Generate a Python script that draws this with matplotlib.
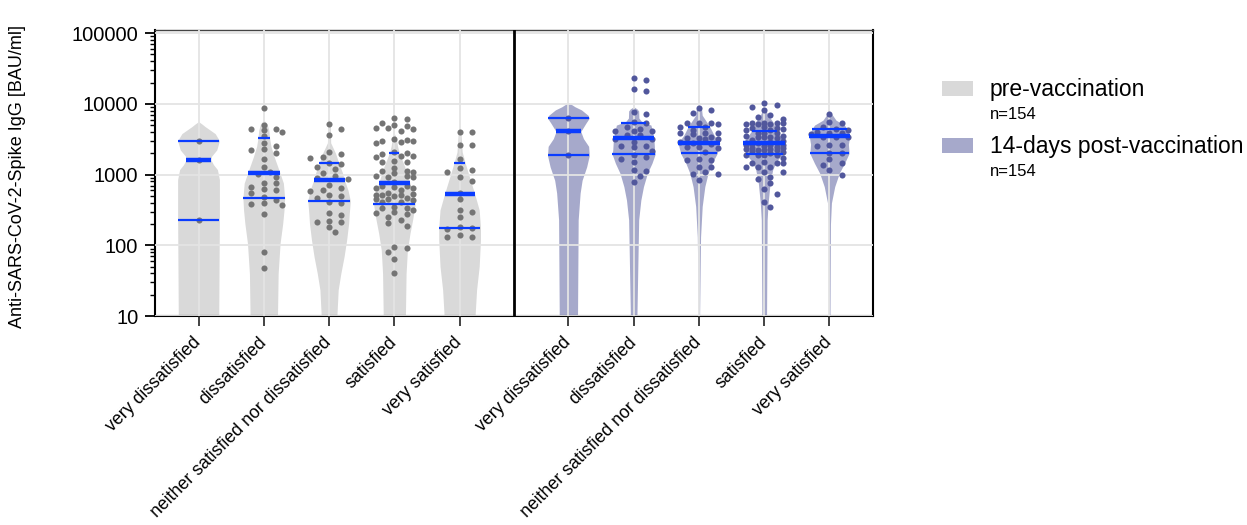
import numpy as np
import matplotlib
matplotlib.use("Agg")
import matplotlib.pyplot as plt
from matplotlib.patches import Rectangle
from matplotlib.transforms import ScaledTranslation

plt.rcParams["font.family"] = ["Liberation Sans", "DejaVu Sans"]

categories = ["very dissatisfied", "dissatisfied", "neither satisfied nor dissatisfied",
              "satisfied", "very satisfied"]

# anti-spike IgG values [BAU/ml]
pre_values = [
    [3000, 1620, 230],
    [8690, 5050, 4430, 4430, 4340, 4060, 3530, 2840, 2520, 2330, 2230, 2000, 1650, 1270,
     1080, 1010, 918, 771, 755, 663, 634, 601, 545, 489, 438, 393, 385, 377, 275, 81, 47],
    [5150, 4390, 3650, 2120, 1960, 1800, 1740, 1450, 1420, 1300, 1200, 1070, 948, 889, 860,
     715, 656, 608, 588, 511, 500, 474, 411, 403, 284, 264, 224, 217, 212, 180, 153],
    [6280, 6140, 5450, 5100, 4940, 4630, 4630, 4390, 4200, 3200, 3100, 3000, 2940, 2870, 2840,
     2070, 2010, 1970, 1860, 1860, 1800, 1560, 1500, 1500, 1230, 1140, 1140, 1100, 1070, 960,
     960, 940, 940, 798, 693, 693, 664, 643, 643, 608, 557, 528, 517, 517, 517, 500, 463, 449,
     449, 439, 416, 416, 353, 335, 335, 317, 300, 284, 279, 255, 229, 206, 190, 96, 91, 80,
     64, 40],
    [3980, 3980, 2640, 2640, 1670, 1230, 1170, 1100, 918, 824, 546, 449, 317, 300, 250, 184,
     175, 169, 141, 130, 130],
]
post_values = [
    [6300, 4100, 1880],
    [23000, 21800, 16300, 15400, 7700, 7210, 5560, 5330, 4680, 4430, 4200, 4200, 4200, 3640,
     3640, 3200, 3200, 2930, 2550, 2550, 2440, 2190, 1900, 1800, 1650, 1530, 1160, 1140, 968,
     780],
    [8870, 8220, 7380, 5440, 5380, 5320, 5150, 4780, 4780, 4290, 3930, 3930, 3850, 3770, 3370,
     3270, 3270, 3160, 3160, 2850, 2780, 2720, 2490, 2490, 2360, 2120, 1650, 1610, 1610, 1300,
     1300, 1080, 1020, 1010, 841],
    [10200, 9680, 8970, 8220, 6990, 6470, 6070, 5450, 5320, 5320, 5320, 5210, 5150, 5150, 4680,
     4530, 4530, 4390, 4290, 4290, 3930, 3930, 3850, 3520, 3520, 3450, 3450, 3370, 3270, 3100,
     3000, 2900, 2840, 2780, 2780, 2780, 2720, 2650, 2630, 2600, 2500, 2450, 2400, 2360, 2290,
     2290, 2230, 2230, 2230, 2190, 2100, 2000, 1900, 1900, 1900, 1900, 1700, 1530, 1480, 1480,
     1450, 1300, 1270, 1270, 1100, 1080, 918, 860, 755, 621, 533, 415, 353],
    [7230, 5620, 5320, 4780, 4390, 4290, 4060, 3930, 3930, 3720, 3450, 3450, 3450, 2630, 2630,
     2550, 2050, 2000, 1650, 1480, 1370, 1160, 990],
]

# quartiles (q1, median, q3) as drawn in the figure
pre_stats = [(230, 1620, 3020), (460, 1070, 3270), (425, 830, 1450), (390, 764, 2030),
             (177, 540, 1460)]
post_stats = [(1880, 4100, 6340), (1940, 3270, 5320), (2010, 2780, 4680), (1960, 2780, 4200),
              (2050, 3520, 4390)]

# violin outlines: (log10 level, half width relative to category spacing)
pre_violins = [
    [(3.75, 0), (3.71, 0.06), (3.68, 0.10), (3.58, 0.255), (3.48, 0.32), (3.35, 0.28),
     (3.26, 0.20), (3.21, 0.19), (3.14, 0.23), (3.07, 0.29), (2.93, 0.32), (2.4, 0.32),
     (1.0, 0.31)],
    [(3.77, 0), (3.72, 0.05), (3.63, 0.077), (3.51, 0.09), (3.40, 0.11), (3.25, 0.16),
     (3.03, 0.245), (2.88, 0.30), (2.67, 0.32), (2.50, 0.31), (2.31, 0.29), (2.03, 0.25),
     (1.60, 0.22), (1.0, 0.21)],
    [(3.74, 0), (3.70, 0.02), (3.45, 0.025), (3.38, 0.06), (3.30, 0.10), (3.16, 0.15),
     (3.04, 0.20), (2.92, 0.237), (2.78, 0.29), (2.63, 0.326), (2.45, 0.31), (2.31, 0.30),
     (2.08, 0.27), (1.84, 0.23), (1.60, 0.18), (1.37, 0.14), (1.0, 0.12)],
    [(3.58, 0), (3.52, 0.03), (3.40, 0.05), (3.31, 0.074), (3.11, 0.16), (2.88, 0.24),
     (2.74, 0.29), (2.59, 0.32), (2.36, 0.28), (2.17, 0.24), (1.93, 0.20), (1.60, 0.18),
     (1.0, 0.17)],
    [(3.64, 0), (3.60, 0.02), (3.32, 0.04), (3.17, 0.084), (2.97, 0.15), (2.73, 0.23),
     (2.50, 0.30), (2.25, 0.32), (2.08, 0.32), (1.70, 0.30), (1.37, 0.26), (1.0, 0.237)],
]
post_violins = [
    [(4.02, 0), (3.96, 0.10), (3.915, 0.20), (3.84, 0.30), (3.80, 0.32), (3.73, 0.27),
     (3.61, 0.19), (3.51, 0.23), (3.40, 0.31), (3.27, 0.32), (3.11, 0.28), (2.92, 0.21),
     (2.74, 0.18), (2.36, 0.15), (1.0, 0.14)],
    [(3.96, 0), (3.93, 0.05), (3.90, 0.077), (3.80, 0.08), (3.75, 0.122), (3.70, 0.265),
     (3.514, 0.31), (3.35, 0.32), (3.29, 0.33), (3.16, 0.28), (3.02, 0.21), (2.83, 0.15),
     (2.64, 0.11), (2.36, 0.077), (1.0, 0.05)],
    [(3.97, 0), (3.93, 0.04), (3.84, 0.05), (3.77, 0.10), (3.67, 0.17), (3.56, 0.23),
     (3.444, 0.32), (3.30, 0.28), (3.16, 0.20), (3.02, 0.14), (2.83, 0.09), (2.55, 0.05),
     (2.12, 0.025), (1.0, 0.01)],
    [(3.96, 0), (3.90, 0.03), (3.84, 0.06), (3.75, 0.13), (3.62, 0.19), (3.54, 0.255),
     (3.444, 0.32), (3.29, 0.28), (3.18, 0.18), (3.07, 0.13), (2.88, 0.09), (2.60, 0.06),
     (2.36, 0.045), (1.0, 0.036)],
    [(3.90, 0), (3.85, 0.04), (3.77, 0.10), (3.70, 0.23), (3.64, 0.27), (3.547, 0.31),
     (3.43, 0.29), (3.30, 0.30), (3.16, 0.23), (3.02, 0.15), (2.83, 0.08), (2.60, 0.03),
     (2.3, 0.015), (1.0, 0.008)],
]

pre_pos = np.arange(5)
post_pos = np.arange(5) + 5 + 2 / 3
gap_x = 4 + 5 / 6

pre_fill, post_fill = "#d9d9d9", "#a6a9cb"
pre_dot, post_dot = "#747474", "#51579c"
line_blue = "#0a3cff"

fig = plt.figure(figsize=(12.47, 5.25), dpi=100)
ax = fig.add_axes([155 / 1247, 209 / 525, 718 / 1247, 286 / 525])
ax.set_yscale("log")
ax.set_xlim(-2 / 3, 10 + 1 / 3)
ax.set_ylim(10, 111000)


def swarm(values, center, step=6.2, rx=11.0, ry=6.0, kmax=3):
    pts = ax.transData.transform(np.column_stack([np.full(len(values), center), values]))
    ys = pts[:, 1]
    x0 = pts[0, 0]
    placed = []
    xs = np.zeros(len(values))
    for i in np.argsort(-ys):
        cands = [0]
        for k in range(1, kmax + 1):
            cands += [k, -k]
        best, best_d = None, -1
        for k in cands:
            x = x0 + k * step
            d = min([((x - px) / rx) ** 2 + ((ys[i] - py) / ry) ** 2 for px, py in placed] or [9])
            if d >= 1:
                best = x
                break
            if d > best_d:
                best, best_d = x, d
        xs[i] = best
        placed.append((best, ys[i]))
    back = ax.transData.inverted().transform(np.column_stack([xs, ys]))
    return back[:, 0]


ax.grid(True, which="major", color="#e4e4e4", lw=1.3, zorder=1.5)
ax.set_axisbelow(False)

for positions, values, stats, violins, fill, dot in [
    (pre_pos, pre_values, pre_stats, pre_violins, pre_fill, pre_dot),
    (post_pos, post_values, post_stats, post_violins, post_fill, post_dot),
]:
    for x, vals, st, prof, in zip(positions, values, stats, violins):
        prof = np.array(prof)
        lv = 10 ** prof[:, 0]
        ax.fill_betweenx(lv, x - prof[:, 1], x + prof[:, 1], color=fill, lw=0, zorder=1)
        xs = swarm(vals, x)
        ax.plot(xs, vals, "o", ms=4.4, color=dot, mec="none", zorder=3)
        for val, lw in zip(st, (1.6, 3.2, 1.6)):
            hw = np.interp(np.log10(val), prof[::-1, 0], prof[::-1, 1])
            ax.plot([x - hw, x + hw], [val, val], color=line_blue, lw=lw,
                    solid_capstyle="butt", zorder=4)

ax.axvline(gap_x, color="black", lw=2, zorder=5)

ax.set_xticks(np.concatenate([pre_pos, post_pos]))
ax.set_xticklabels(categories + categories, rotation=45, ha="right", va="center",
                   rotation_mode="anchor", fontsize=12.8)
shift = ScaledTranslation(4 / 100, -4 / 100, fig.dpi_scale_trans)
for lab in ax.get_xticklabels():
    lab.set_transform(lab.get_transform() + shift)
ax.tick_params(axis="x", length=7, width=1.2, pad=10, color="#222222")
ax.set_yticks([10, 100, 1000, 10000, 100000])
ax.set_yticklabels(["10", "100", "1000", "10000", "100000"], fontsize=14.5)
ax.tick_params(axis="y", which="major", length=7, width=1.3, pad=5)
ax.tick_params(axis="y", which="minor", length=3.5, width=1.0)

for side in ("left", "bottom", "right"):
    ax.spines[side].set_linewidth(1.5)
    ax.spines[side].set_color("black")
ax.spines["top"].set_linewidth(1.0)
ax.spines["top"].set_color("#444444")

fig.text(18 / 1247, 1 - 176 / 525, "Anti-SARS-CoV-2-Spike IgG [BAU/ml]", rotation=90,
         ha="center", va="center", fontsize=13)

# legend
for y_top, color, label in [(81, pre_fill, "pre-vaccination"), (138, post_fill, "14-days post-vaccination")]:
    fig.add_artist(Rectangle((942 / 1247, 1 - (y_top + 15) / 525), 31 / 1247, 15 / 525,
                             transform=fig.transFigure, color=color, lw=0))
    fig.text(990 / 1247, 1 - (y_top + 15) / 525, label, fontsize=16.5, va="baseline")
    fig.text(990 / 1247, 1 - (y_top + 38) / 525, "n=154", fontsize=12, va="baseline")

fig.savefig("out.png", dpi=100)
